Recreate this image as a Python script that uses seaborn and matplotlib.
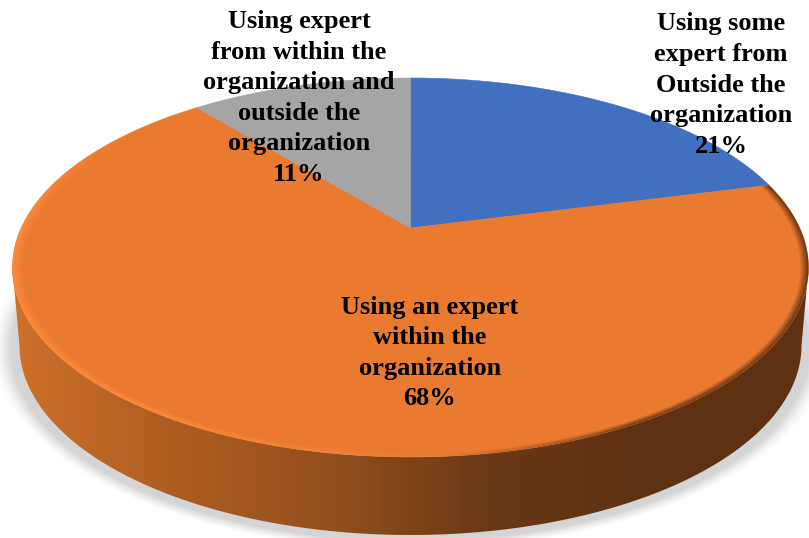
import numpy as np
import matplotlib
matplotlib.use("Agg")
import matplotlib.pyplot as plt
from matplotlib.patches import Polygon
from matplotlib.transforms import Affine2D
import seaborn as sns

# Data
categories = ["Using some\nexpert from\nOutside the\norganization",
              "Using an expert\nwithin the\norganization",
              "Using expert\nfrom within the\norganization and\noutside the\norganization"]
shares = [21, 68, 11]
slice_colors = ["#4170C0", "#EA7A30", "#A5A5A5"]
wall_colors = ["#CF722B", "#B05E22", "#95501D", "#6B3916", "#5E3112", "#5E3112"]

# Label anchors (pixel coords), same order as categories
label_xy = [(721, 85), (430, 353), (299, 98)]

# Geometry of the tilted disc, in image pixels
W, H = 809, 538
APEX_X, APEX_Y = 410.5, 228
RIM_CY, RIM_RX, RIM_RY = 267.5, 398, 189.5
DEPTH = 78
K = 0.2084
SCALE_X = RIM_RX * np.sqrt(1 - K ** 2)
SCALE_Y = 150 * (1 + K)

sns.set_theme(style="white")
plt.rcParams["font.family"] = ["Liberation Serif", "DejaVu Serif"]


def project(pts):
    # perspective map from the flat unit pie to the image
    w = 1 + K * pts[:, 1]
    return np.column_stack([APEX_X + SCALE_X * pts[:, 0] / w,
                            APEX_Y - SCALE_Y * pts[:, 1] / w])


fig = plt.figure(figsize=(W / 100, H / 100), dpi=100)
ax = fig.add_axes([0, 0, 1, 1])

xx, yy = np.meshgrid(np.arange(W) + 0.5, np.arange(H) + 0.5)
extent = (0, W, H, 0)

# soft shadow under the disc
dist = np.hypot((xx - APEX_X) / (RIM_RX + 1), (yy - RIM_CY - DEPTH - 3) / (RIM_RY + 3))
shadow = np.zeros((H, W, 4))
shadow[..., 3] = 0.17 * np.clip(1 - (dist - 1) / 0.05, 0, 1) ** 1.5
ax.imshow(shadow, extent=extent, aspect="auto", zorder=1)

# side wall, horizontal gradient
t = np.radians(np.linspace(180, 360, 200))
top_rim = np.column_stack([APEX_X + RIM_RX * np.cos(t), RIM_CY - RIM_RY * np.sin(t)])
bottom_rim = np.column_stack([APEX_X + (RIM_RX - 7) * np.cos(t),
                              RIM_CY + DEPTH - RIM_RY * np.sin(t)])
wall = Polygon(np.vstack([top_rim, bottom_rim[::-1]]), closed=True, fc="none", ec="none", zorder=2)
ax.add_patch(wall)
wall_cmap = sns.blend_palette(wall_colors, as_cmap=True)
grad = ax.imshow(np.linspace(0, 1, W)[None, :], extent=extent, aspect="auto",
                 cmap=wall_cmap, zorder=2)
grad.set_clip_path(wall)

# top face
wedges, _ = ax.pie(shares, colors=slice_colors, startangle=90, counterclock=False, radius=1)
ax.set_aspect("auto")
faces = []
for wedge, color in zip(wedges, slice_colors):
    # flatten the curves at a big scale so the rim stays smooth
    poly = wedge.get_path().to_polygons(Affine2D().scale(2000))[0] / 2000
    wedge.remove()
    face = Polygon(project(poly), closed=True, fc=color, ec=color, lw=0.4, zorder=3)
    ax.add_patch(face)
    faces.append(face)

# bevel along the orange rim: light on the left, dark on the right
inner = 1 - np.hypot((xx - APEX_X) / RIM_RX, (yy - RIM_CY) / RIM_RY)
bevel = np.zeros((H, W, 4))
left = np.clip((470 - xx) / 300, 0, 1) * np.clip((yy - 130) / 80, 0, 1)
right = np.clip((xx - 440) / 200, 0, 1)
bevel[..., :3] = np.where(xx[..., None] < 450, np.array([1.0, 0.55, 0.24]), np.array([0.37, 0.19, 0.07]))
bevel[..., 3] = np.where(xx < 450,
                         0.95 * left * np.clip(1 - inner / 0.028, 0, 1),
                         0.95 * right * np.clip(1 - inner / 0.022, 0, 1))
bev = ax.imshow(bevel, extent=extent, aspect="auto", zorder=4)
bev.set_clip_path(faces[1])

# labels
for cat, share, (lx, ly) in zip(categories, shares, label_xy):
    ax.text(lx, ly, f"{cat}\n{share}%", ha="center", va="center", ma="center",
            fontsize=19, fontweight="bold", color="black", linespacing=1.42, zorder=5)

ax.set_xlim(0, W)
ax.set_ylim(H, 0)
ax.set_axis_off()

fig.savefig("out.png", dpi=100)
